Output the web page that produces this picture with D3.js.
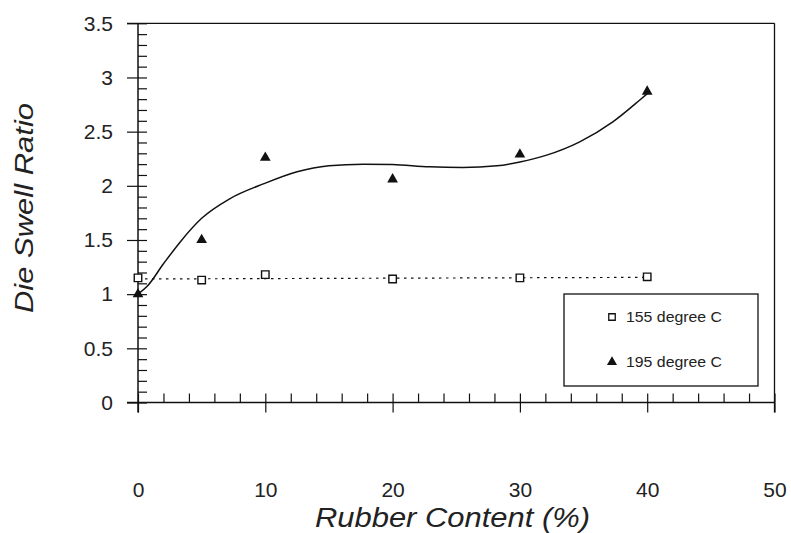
<!DOCTYPE html>
<html><head><meta charset="utf-8">
<script src="https://cdn.jsdelivr.net/npm/d3@7"></script>
<style>
body{margin:0;background:#fff;}
svg{display:block;}
text{font-family:"Liberation Sans",Arial,sans-serif;fill:#222;}
</style></head>
<body><svg id="c" width="791" height="533"></svg>
<script>
// Data
const rubber = [0, 5, 10, 20, 30, 40];
const swell155 = [1.15, 1.13, 1.18, 1.14, 1.15, 1.16];
const swell195 = [1.0, 1.5, 2.26, 2.06, 2.29, 2.87];
// Fitted trend lines
const fit195X = [0, 0.7, 2, 3.3, 5, 7.2, 9.9, 12.5, 15, 17.7, 20, 22.9, 25.5, 28.2, 30, 32.1, 34.7, 37.3, 39.4, 40];
const fit195Y = [1.0, 1.07, 1.28, 1.48, 1.70, 1.88, 2.02, 2.13, 2.185, 2.20, 2.197, 2.175, 2.17, 2.185, 2.22, 2.283, 2.406, 2.59, 2.79, 2.85];
const fit155X = [0, 40];
const fit155Y = [1.14, 1.155];
const xTicks = [0, 10, 20, 30, 40, 50];
const yTicks = [0, 0.5, 1, 1.5, 2, 2.5, 3, 3.5];
const seriesNames = ["155 degree C", "195 degree C"];

const svg = d3.select("#c");
const x = d3.scaleLinear().domain([0, 50]).range([138, 774.5]);
const y = d3.scaleLinear().domain([0, 3.5]).range([402.5, 23.3]);

const ink = "#111";
const g = svg.append("g");

// frame: top and right
g.append("line").attr("x1", x(0)-11).attr("x2", x(50)).attr("y1", y(3.5)).attr("y2", y(3.5)).attr("stroke", ink).attr("stroke-width", 1.3);
g.append("line").attr("x1", x(50)).attr("x2", x(50)).attr("y1", y(3.5)).attr("y2", y(0)+10).attr("stroke", ink).attr("stroke-width", 1.3);

// Y axis
const yMinor = d3.range(0, 35).map(i => i/10).filter(v => !yTicks.some(t => Math.abs(t - v) < 1e-6));
g.append("line").attr("x1", x(0)).attr("x2", x(0)).attr("y1", y(3.5)).attr("y2", y(0)+10).attr("stroke", ink).attr("stroke-width", 1.5);
const yAx = g.append("g").attr("transform", `translate(${x(0)},0)`)
  .call(d3.axisLeft(y).tickValues(yTicks).tickSize(11).tickPadding(14).tickFormat(d => d3.format("")(d)));
yAx.select(".domain").remove();
yAx.selectAll("line").attr("stroke", ink).attr("stroke-width", 1.2);
yAx.selectAll("text").attr("font-size", 21).attr("fill", "#222");
const yAxIn = g.append("g").attr("transform", `translate(${x(0)},0)`)
  .call(d3.axisRight(y).tickValues(yTicks.concat(yMinor)).tickSize(9).tickFormat(""));
yAxIn.select(".domain").remove();
yAxIn.selectAll("line").attr("stroke", ink).attr("stroke-width", 1.2);

// X axis
const xMinor = d3.range(0, 50, 2).filter(v => v % 10 !== 0);
g.append("line").attr("x1", x(0)-11).attr("x2", x(50)).attr("y1", y(0)).attr("y2", y(0)).attr("stroke", ink).attr("stroke-width", 1.4);
const xAx = g.append("g").attr("transform", `translate(0,${y(0)})`)
  .call(d3.axisBottom(x).tickValues(xTicks).tickSize(10).tickPadding(70).tickFormat(d3.format("d")));
xAx.select(".domain").remove();
xAx.selectAll("line").attr("stroke", ink).attr("stroke-width", 1.2);
xAx.selectAll("text").attr("font-size", 21).attr("fill", "#222");
const xAxIn = g.append("g").attr("transform", `translate(0,${y(0)})`)
  .call(d3.axisTop(x).tickValues(xTicks.concat(xMinor)).tickSize(9).tickFormat(""));
xAxIn.select(".domain").remove();
xAxIn.selectAll("line").attr("stroke", ink).attr("stroke-width", 1.2);

// Axis titles
svg.append("text").attr("x", 452.5).attr("y", 527).attr("text-anchor", "middle")
  .attr("font-size", 27).attr("font-style", "italic")
  .attr("textLength", 275).attr("lengthAdjust", "spacingAndGlyphs").text("Rubber Content (%)");
svg.append("text").attr("transform", "translate(33,208) rotate(-90)").attr("text-anchor", "middle")
  .attr("font-size", 26).attr("font-style", "italic")
  .attr("textLength", 210).attr("lengthAdjust", "spacingAndGlyphs").text("Die Swell Ratio");

// Fit lines
const line = d3.line().x(d => x(d[0])).y(d => y(d[1]));
g.append("path").datum(fit155X.map((v, i) => [v, fit155Y[i]]))
  .attr("d", line).attr("fill", "none").attr("stroke", ink).attr("stroke-width", 1.2).attr("stroke-dasharray", "2.5,4.5");
g.append("path").datum(fit195X.map((v, i) => [v, fit195Y[i]]))
  .attr("d", line.curve(d3.curveMonotoneX)).attr("fill", "none").attr("stroke", ink).attr("stroke-width", 1.5);

// Markers
const sq = d3.symbol().type(d3.symbolSquare).size(56);
const tri = d3.symbol().type(d3.symbolTriangle).size(50);
g.selectAll(".s155").data(rubber).join("path")
  .attr("transform", (d, i) => `translate(${x(d)},${y(swell155[i])})`)
  .attr("d", sq).attr("fill", "#fff").attr("stroke", ink).attr("stroke-width", 1.4);
g.selectAll(".s195").data(rubber).join("path")
  .attr("transform", (d, i) => `translate(${x(d)},${y(swell195[i])})`)
  .attr("d", tri).attr("fill", ink);

// Legend
const lg = svg.append("g");
lg.append("rect").attr("x", 564).attr("y", 294).attr("width", 194).attr("height", 92)
  .attr("fill", "#fff").attr("stroke", ink).attr("stroke-width", 1.3);
const items = [{n: seriesNames[0], sym: d3.symbolSquare, sz: 42, fill: "#fff", yy: 317}, {n: seriesNames[1], sym: d3.symbolTriangle, sz: 44, fill: ink, yy: 362}];
items.forEach(it => {
  lg.append("path").attr("transform", `translate(612,${it.yy})`).attr("d", d3.symbol().type(it.sym).size(it.sz)())
    .attr("fill", it.fill).attr("stroke", it.fill === "#fff" ? ink : "none").attr("stroke-width", 1.3);
  lg.append("text").attr("x", 626).attr("y", it.yy).attr("dy", "0.36em").attr("font-size", 15)
    .attr("textLength", 96).attr("lengthAdjust", "spacingAndGlyphs").text(it.n);
});
</script></body></html>
